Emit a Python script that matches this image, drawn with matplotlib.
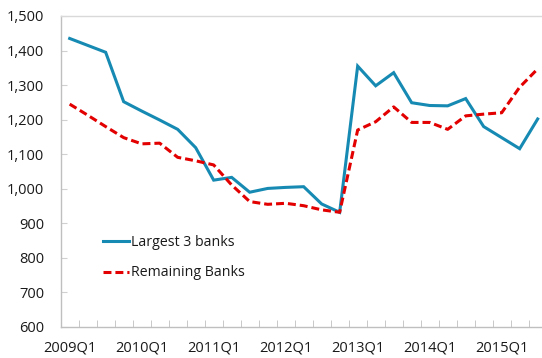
import matplotlib
matplotlib.use("Agg")
import matplotlib.pyplot as plt
from matplotlib.ticker import FuncFormatter, FixedLocator

plt.rcParams['font.family'] = ['Open Sans', 'DejaVu Sans']

quarters = [f"{y}Q{q}" for y in range(2009, 2016) for q in range(1, 5)][:27]
largest3 = [1435, 1415, 1395, 1252, 1225, 1199, 1172, 1119, 1025, 1033, 990, 1001,
            1004, 1006, 956, 932, 1355, 1298, 1336, 1249, 1241, 1240, 1261, 1180,
            1148, 1116, 1202]
remaining = [1245, 1213, 1180, 1148, 1130, 1132, 1091, 1081, 1069, 1011, 963, 955,
             958, 951, 939, 932, 1170, 1194, 1237, 1192, 1192, 1172, 1211, 1216,
             1220, 1294, 1347]
series_names = ["Largest 3 banks", "Remaining Banks"]
y_ticks = [600, 700, 800, 900, 1000, 1100, 1200, 1300, 1400, 1500]

W, H = 542, 358
fig = plt.figure(figsize=(W / 100, H / 100), dpi=100)
left, right_px, top, bottom = 60.67, 546.67, 16, 327
ax = fig.add_axes([left / W, 1 - bottom / H, (right_px - left) / W, (bottom - top) / H])

x = list(range(len(quarters)))
ax.plot(x, largest3, color='#168ab2', lw=2.2, label=series_names[0],
        solid_joinstyle='miter')
ax.plot(x, remaining, color='#e30000', lw=2.2, ls=(0, (2.6, 1.3)), label=series_names[1])

ax.set_xlim(-0.5, len(quarters) - 0.5)
ax.set_ylim(600, 1500)

gray = '#bfbfbf'
ax.spines['right'].set_visible(False)
ax.spines['top'].set_color('#d9d9d9')
ax.spines['left'].set_color(gray)
ax.spines['bottom'].set_color(gray)
for s in ['left', 'bottom', 'top']:
    ax.spines[s].set_linewidth(1.0)

ax.yaxis.set_major_locator(FixedLocator(y_ticks))
ax.yaxis.set_major_formatter(FuncFormatter(lambda v, p: f"{int(v):,}"))
ax.tick_params(axis='y', direction='in', length=4, color='#d0d0d0', pad=12,
               labelsize=10.5, labelcolor='#1a1a1a')

label_pos = [i for i, q in enumerate(quarters) if q.endswith('Q1')]
ax.xaxis.set_major_locator(FixedLocator(label_pos))
ax.set_xticklabels([quarters[i] for i in label_pos])
ax.xaxis.set_minor_locator(FixedLocator([i - 0.5 for i in range(len(quarters) + 1)]))
ax.tick_params(axis='x', which='major', length=0, pad=10, labelsize=10.5,
               labelcolor='#1a1a1a')
ax.tick_params(axis='x', which='minor', direction='in', length=5, color=gray)

leg = ax.legend(loc='center left', bbox_to_anchor=(103 / W, 1 - 257.7 / H),
                bbox_transform=fig.transFigure, frameon=False, fontsize=10.2,
                borderpad=0, borderaxespad=0, handlelength=1.8, handletextpad=0.15,
                labelspacing=1.1)
for t in leg.get_texts():
    t.set_color('#1a1a1a')

fig.savefig('out.png', dpi=100)
